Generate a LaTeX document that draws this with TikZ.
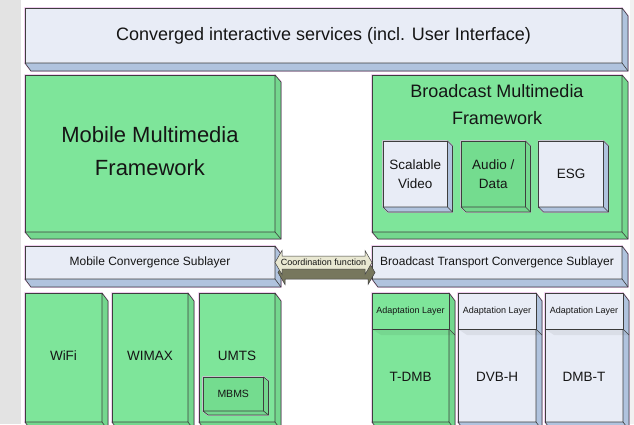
\documentclass[tikz,border=0pt]{standalone}
\usepackage{fontspec}
\setmainfont{Liberation Sans}
\usetikzlibrary{calc}
\definecolor{bgc}{HTML}{F1F1F1}
\definecolor{bgl}{HTML}{E3E3E3}
\definecolor{lavF}{HTML}{E8ECF6}
\definecolor{lavS}{HTML}{B0C3DE}
\definecolor{grnF}{HTML}{7EE59A}
\definecolor{grnS}{HTML}{74D78E}
\definecolor{grnD}{HTML}{74DC8F}
\definecolor{edge}{HTML}{3E3E3E}
\definecolor{haloc}{HTML}{EBB4E8}
\definecolor{txt}{HTML}{151515}
\definecolor{creamF}{HTML}{E9E8D2}
\definecolor{olive}{HTML}{77775D}
\tikzset{
  x=1pt, y=-1pt,
  every node/.append style={text=txt},
  face/.style={draw=edge, line width=0.6pt, inner sep=0pt, outer sep=0pt, anchor=north west},
  sideface/.style={draw=edge, line width=0.6pt, line join=round},
  halo/.style={draw=haloc, line width=1.4pt, line join=miter},
  lbl/.style={align=center, inner sep=0pt},
}
\newcommand\tdbox[9]{%
  \draw[halo] (#2,#3) -- ++(#4,0) -- ++(#6,#7) -- ++(0,#5) -- ++(-#4,0) -- ++(-#6,-#7) -- cycle;
  \node[face, fill=#8, minimum width=#4pt, minimum height=#5pt] (#1) at (#2,#3) {};
  \filldraw[sideface, fill=#9] (#1.north east) -- ++(#6,#7) -- ++(0,#5) -- ++(-#4,0) -- (#1.south west) -- (#1.south east) -- cycle;
  \draw[sideface] (#1.south east) -- ++(#6,#7);
}
\begin{document}
\begin{tikzpicture}
\useasboundingbox (0,0) rectangle (634,424);
\clip (0,0) rectangle (634,424);
\fill[bgc] (0,0) rectangle (634,424);
\fill[bgl] (0,0) rectangle (21,424);
\fill[white] (21,0) rectangle (630,424);

% top
\tdbox{top}{25}{8}{597}{55}{6}{8}{lavF}{lavS}
\node[lbl, font=\fontsize{18}{22}\selectfont] (ttop) at (top.center) {Converged interactive services (incl. User Interface)};

% frameworks
\tdbox{mmf}{25}{75}{250}{157}{6}{7}{grnF}{grnS}
\node[lbl, font=\fontsize{22}{33}\selectfont] (tmmf) at (150,151.5) {Mobile Multimedia\\Framework};

\tdbox{bmf}{372}{75}{250}{157}{6}{7}{grnF}{grnS}
\node[lbl, font=\fontsize{18}{27}\selectfont] (tbmf) at (497,104.5) {Broadcast Multimedia\\Framework};

\tdbox{sv}{383}{141}{64.5}{66}{5}{5}{lavF}{lavS}
\node[lbl, font=\fontsize{13.5}{19}\selectfont] (tsv) at (sv.center) {Scalable\\Video};
\tdbox{ad}{461}{141}{64.5}{66}{5}{5}{grnD}{grnS}
\node[lbl, font=\fontsize{13.5}{19}\selectfont] (tad) at (ad.center) {Audio /\\Data};
\tdbox{esg}{538.5}{141}{65}{66}{5}{5}{lavF}{lavS}
\node[lbl, font=\fontsize{13.5}{19}\selectfont] (tesg) at (esg.center) {ESG};

% sublayers
\tdbox{mcs}{25}{246}{250}{33}{6}{8}{lavF}{lavS}
\node[lbl, font=\fontsize{12}{14}\selectfont] (tmcs) at (mcs.center) {Mobile Convergence Sublayer};
\tdbox{btcs}{372}{246}{250}{33}{6}{8}{lavF}{lavS}
\node[lbl, font=\fontsize{12}{14}\selectfont] (tbtcs) at (btcs.center) {Broadcast Transport Convergence Sublayer};

% coordination arrow
\coordinate (aL) at (mcs.east);
\coordinate (aR) at (btcs.west);
\coordinate (dL) at ($(aL)+(3,10)$);
\coordinate (dR) at ($(aR)+(3,10)$);
\filldraw[draw=edge, line width=0.5pt, fill=olive, line join=miter]
  (dL) -- ++(7,-12) -- ++(0,5.5) -- ($(dR)+(-7,-6.5)$) -- ++(0,-5.5) -- (dR) -- ++(-7,12) -- ++(0,-5.5) -- ($(dL)+(7,6.5)$) -- ++(0,5.5) -- cycle;
\filldraw[draw=edge, line width=0.5pt, fill=creamF, line join=miter]
  (aL) -- ++(7,-12) -- ++(0,5.5) -- ($(aR)+(-7,-6.5)$) -- ++(0,-5.5) -- (aR) -- ++(-7,12) -- ++(0,-5.5) -- ($(aL)+(7,6.5)$) -- ++(0,5.5) -- cycle;
\node[lbl, font=\fontsize{9}{10}\selectfont] (tcf) at ($(aL)!0.5!(aR)$) {Coordination function};

% bottom left
\tdbox{wifi}{25}{293}{77}{129}{6}{8}{grnF}{grnS}
\node[lbl, font=\fontsize{13.5}{16}\selectfont] (twifi) at ($(wifi.north)+(0,63)$) {WiFi};
\tdbox{wimax}{112}{293}{76}{129}{6}{8}{grnF}{grnS}
\node[lbl, font=\fontsize{13.5}{16}\selectfont] (twimax) at ($(wimax.north)+(0,63)$) {WIMAX};
\tdbox{umts}{199}{293}{76}{129}{6}{8}{grnF}{grnS}
\node[lbl, font=\fontsize{13.5}{16}\selectfont] (tumts) at ($(umts.north)+(0,63)$) {UMTS};
\tdbox{mbms}{203}{377}{60.5}{34}{5}{4}{grnD}{grnS}
\node[lbl, font=\fontsize{10.5}{12}\selectfont] (tmbms) at (mbms.center) {MBMS};

% bottom right
\tdbox{tdmb}{372}{293}{77}{129}{6}{8}{grnF}{grnS}
\tdbox{dvbh}{458}{293}{78}{129}{6}{8}{lavF}{lavS}
\tdbox{dmbt}{545}{293}{78}{129}{6}{8}{lavF}{lavS}
\foreach \b/\w/\f in {tdmb/77/grnF, dvbh/78/lavF, dmbt/78/lavF}{
  \node[face, fill=\f, minimum width=\w pt, minimum height=36pt] (h\b) at (\b.north west) {};
  \fill[black, opacity=0.06] (h\b.south west) -- (h\b.south east) -- ++(6,6) -- ++(-\w+3,0) -- cycle;
  \draw[sideface] (h\b.south east) -- ++(6,6);
  \node[lbl, font=\fontsize{9}{10}\selectfont] (th\b) at (h\b.center) {Adaptation Layer};
}
\node[lbl, font=\fontsize{13.5}{16}\selectfont] (ttdmb) at ($(tdmb.north)+(0,84)$) {T-DMB};
\node[lbl, font=\fontsize{13.5}{16}\selectfont] (tdvbh) at ($(dvbh.north)+(0,84)$) {DVB-H};
\node[lbl, font=\fontsize{13.5}{16}\selectfont] (tdmbt) at ($(dmbt.north)+(0,84)$) {DMB-T};
\end{tikzpicture}
\end{document}
